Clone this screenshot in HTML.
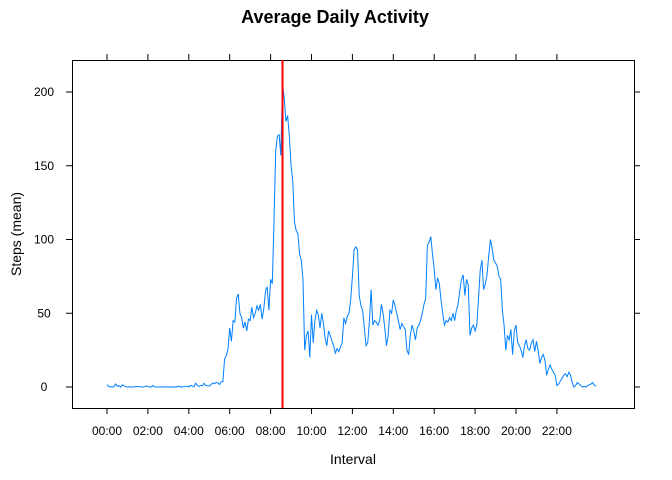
<!DOCTYPE html>
<html><head><meta charset="utf-8"><style>
html,body{margin:0;padding:0;background:#fff;}
svg{display:block;font-family:"Liberation Sans",Arial,sans-serif;}
</style></head><body>
<svg id="chart" width="672" height="480" viewBox="0 0 672 480">
<text x="335" y="23" text-anchor="middle" font-size="18" font-weight="bold">Average Daily Activity</text>
<text transform="translate(21,234) rotate(-90)" text-anchor="middle" font-size="14">Steps (mean)</text>
<text x="353" y="464" text-anchor="middle" font-size="14">Interval</text>
<rect x="72.5" y="60.5" width="562" height="348" fill="none" stroke="#000" stroke-width="1"/>
<g id="axes"></g>
<g id="series"></g>
</svg>
<script>
const yTicks = [0, 50, 100, 150, 200];
const xTickHours = [0, 2, 4, 6, 8, 10, 12, 14, 16, 18, 20, 22];
const xTickLabels = ["00:00","02:00","04:00","06:00","08:00","10:00","12:00","14:00","16:00","18:00","20:00","22:00"];
const maxIntervalHour = 8 + 35/60;
const stepsMean = [
1.7,0.3,0.1,0.2,0.1,2.1,0.5,0.9,0,1.5,0.8,0.2,
0,0.2,0,0,0.1,0.3,0.3,0.2,0,0,0.2,0.8,
0.2,0,0,1.1,0,0,0,0.1,0.1,0,0.2,0,
0,0.1,0,0,0.1,0,0.6,0,0,0.2,0.3,0.5,
0,1.1,0.7,0.1,2.6,1.2,0.4,1.1,0.8,2.5,1,0.8,
0.7,1.5,2.8,2.1,3.1,2.8,1.7,3.6,3.6,19,21.3,25.5,
40,31,45,44,60,63,50,47,40,44,38,46,
45,54,47,50,55,52,56,46,53,65,68,52,
73,70,113,160,170,171,157,206,196,180,184,170,
150,140,112,106,104,90,86,73,25,35,38,20,
49,30,45,52,49,40,50,43,33,28,38,35,
31,28,23,26,24,27,30,47,43,48,50,59,
75,93,95,93,62,55,52,40,28,30,45,66,
42,45,44,42,45,56,50,40,28,35,52,50,
59,55,50,45,39,43,41,39,25,22,35,42,
38,32,40,42,45,50,56,60,96,98,102,90,
80,66,74,70,59,50,42,45,44,47,45,50,
45,52,56,65,73,76,62,73,69,35,40,42,
38,42,60,79,86,66,70,76,89,100,94,86,
84,82,75,73,52,42,25,35,32,39,22,38,
42,30,28,25,20,28,32,26,25,30,32,24,
31,25,16,20,22,18,8,12,15,12,10,8,
1,2,4,6,8,9,7,10,8,3,0,1,
3,2,1,0,0.5,0,1,1.5,2,3,1,0.5
];
const NS = "http://www.w3.org/2000/svg";
const X0 = 107, PXH = 20.45, Y0 = 387, PXU = 1.475;
function xs(h){ return X0 + h*PXH; }
function ys(v){ return Y0 - v*PXU; }
function mk(tag, attrs, parent){ const e=document.createElementNS(NS,tag); for(const k in attrs) e.setAttribute(k,attrs[k]); parent.appendChild(e); return e; }
const axes=document.getElementById('axes');
const series=document.getElementById('series');
yTicks.forEach((t)=>{
  const y=ys(t);
  const l=mk('line',{x1:66,x2:72,y1:y,y2:y,stroke:'#000'},axes);
  
  
  const r=mk('line',{x1:634,x2:640,y1:y,y2:y,stroke:'#000'},axes);
  
  
  const tx=mk('text',{x:44,y:y+4,'text-anchor':'middle','font-size':12},axes);
  tx.textContent=t;
  
  
});
xTickHours.forEach((h,i)=>{
  const x=xs(h);
  const b=mk('line',{x1:x,x2:x,y1:408,y2:414,stroke:'#000'},axes);
  
  
  const t=mk('line',{x1:x,x2:x,y1:54,y2:60,stroke:'#000'},axes);
  
  
  const tx=mk('text',{x:x,y:435,'text-anchor':'middle','font-size':12},axes);
  tx.textContent=xTickLabels[i];
  
  
});
const pts=stepsMean.map((v,i)=>xs(i/12).toFixed(2)+','+ys(v).toFixed(2)).join(' ');
const line=mk('polyline',{points:pts,fill:'none',stroke:'#0080ff','stroke-width':1},series);


const mx=xs(maxIntervalHour);
const red=mk('line',{x1:mx,x2:mx,y1:60,y2:408,stroke:'#ff0000','stroke-width':2},series);


</script>
</body></html>
